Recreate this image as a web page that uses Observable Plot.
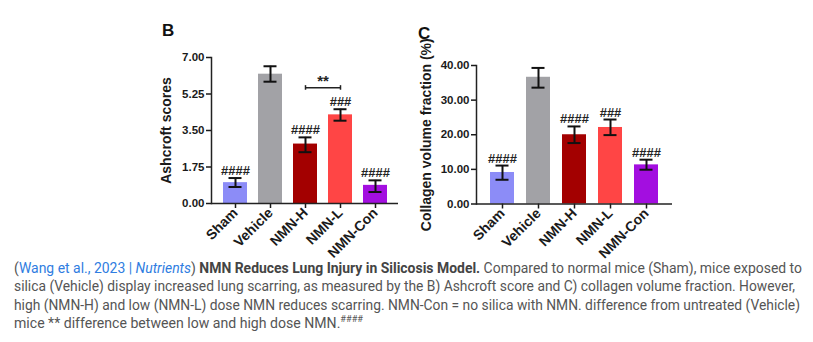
<!DOCTYPE html>
<html>
<head>
<meta charset="utf-8">
<script src="https://cdn.jsdelivr.net/npm/d3@7"></script>
<script src="https://cdn.jsdelivr.net/npm/@observablehq/plot@0.6"></script>
<style>
  html, body { margin: 0; padding: 0; background: #fff; }
  body { width: 813px; height: 342px; overflow: hidden; position: relative; }
  #b { position: absolute; left: 150px; top: 0; }
  #c { position: absolute; left: 410px; top: 0; }
  .panel { position: absolute; font: bold 17px "Liberation Sans", Arial, sans-serif; color: #111; line-height: 1; }
  #caption { position: absolute; left: 14px; top: 259px; font-family: Roboto, sans-serif; font-size: 13.8px; color: #555; line-height: 18.3px; }
  .ln { display: block; white-space: nowrap; width: max-content; transform-origin: 0 0; }
  .lk { color: #2f7de1; }
  .ttl { font-weight: bold; color: #444; }
  sup { font-size: 9px; line-height: 0; }
</style>
</head>
<body>
<div class="panel" style="left:162px; top:22px;">B</div>
<div id="b"></div>
<div id="c"></div>
<div class="panel" style="left:418px; top:25px;">C</div>
<div id="caption">
  <span class="ln">(<span class="lk">Wang et al., 2023 | <i>Nutrients</i></span>) <span class="ttl">NMN Reduces Lung Injury in Silicosis Model.</span> Compared to normal mice (Sham), mice exposed to</span>
  <span class="ln">silica (Vehicle) display increased lung scarring, as measured by the B) Ashcroft score and C) collagen volume fraction. However,</span>
  <span class="ln">high (NMN-H) and low (NMN-L) dose NMN reduces scarring. NMN-Con = no silica with NMN. difference from untreated (Vehicle)</span>
  <span class="ln">mice ** difference between low and high dose NMN.<sup>####</sup></span>
</div>
<script>
const groups = ["Sham", "Vehicle", "NMN-H", "NMN-L", "NMN-Con"];
const colors = ["#8c8cf7", "#a2a2a6", "#a30000", "#ff4545", "#a30ee0"];

const ashcroftMean = [1.0, 6.2, 2.85, 4.25, 0.87];
const ashcroftLow  = [0.79, 5.84, 2.46, 3.97, 0.55];
const ashcroftHigh = [1.22, 6.58, 3.17, 4.52, 1.11];
const ashcroftSig  = ["####", "", "####", "###", "####"];
const ashcroftTicks = [0, 1.75, 3.5, 5.25, 7];

const collagenMean = [9.1, 36.6, 20.0, 22.1, 11.3];
const collagenLow  = [7.0, 33.6, 17.6, 19.9, 9.9];
const collagenHigh = [11.1, 39.3, 22.4, 24.4, 12.8];
const collagenSig  = ["####", "", "####", "###", "####"];
const collagenTicks = [0, 10, 20, 30, 40];

const bracketFrom = "NMN-H";
const bracketTo = "NMN-L";
const bracketY = 5.55;
const bracketLabel = "**";

function panel(o) {
  const data = groups.map((g, i) => ({group: g, mean: o.mean[i], lo: o.lo[i], hi: o.hi[i], sig: o.sig[i]}));
  const marks = [
    Plot.barY(data, {x: "group", y: "mean", fill: "group"}),
    Plot.ruleX(data, {x: "group", y1: "lo", y2: "hi", stroke: "#111", strokeWidth: 2}),
    Plot.tickY(data, {x: "group", y: "hi", stroke: "#111", strokeWidth: 2, insetLeft: 5.5, insetRight: 5.5}),
    Plot.tickY(data, {x: "group", y: "lo", stroke: "#111", strokeWidth: 2, insetLeft: 5.5, insetRight: 5.5}),
    Plot.text(data, {x: "group", y: "hi", text: "sig", dy: -3, lineAnchor: "bottom", fontSize: 13, fontWeight: "bold", fill: "#222"}),
    Plot.axisX({tickRotate: -45, tickSize: 5, tickPadding: 2, fontSize: 14, fontWeight: "bold", label: null, strokeWidth: 1.5}),
    Plot.axisY({ticks: o.ticks, tickFormat: d3.format(".2f"), tickSize: 5, tickPadding: 2, fontSize: 11.5, fontWeight: "bold", label: null, strokeWidth: 1.5}),
    Plot.axisY({ticks: [], label: o.label, labelAnchor: "center", labelArrow: "none", labelOffset: o.labelOffset, fontSize: 14, fontWeight: "bold"}),
    Plot.ruleY([0], {stroke: "#222", strokeWidth: 1.5}),
    Plot.frame({anchor: "left", stroke: "#222", strokeWidth: 1.5})
  ];
  if (o.bracket) {
    const b = [{x1: bracketFrom, x2: bracketTo, y: bracketY, t: bracketLabel}];
    marks.push(
      Plot.link(b, {x1: "x1", x2: "x2", y1: "y", y2: "y", stroke: "#222", strokeWidth: 1.5}),
      Plot.ruleX([bracketFrom, bracketTo], {x: d => d, y1: bracketY - 0.12, y2: bracketY + 0.1, stroke: "#222", strokeWidth: 1.5}),
      Plot.text(b, {x: "x1", y: "y", text: "t", dx: 17.5, dy: -2, lineAnchor: "bottom", fontSize: 15, fontWeight: "bold", fill: "#222"})
    );
  }
  return Plot.plot({
    width: o.width, height: o.height,
    marginTop: o.mt, marginBottom: o.mb, marginLeft: o.ml, marginRight: o.mr,
    style: {fontFamily: "'Liberation Sans', Arial, sans-serif", color: "#1a1a1a", background: "transparent", overflow: "visible"},
    x: {domain: groups, paddingInner: o.pi, paddingOuter: o.po},
    y: {domain: o.domain},
    color: {domain: groups, range: colors},
    marks
  });
}

document.getElementById("b").append(panel({
  mean: ashcroftMean, lo: ashcroftLow, hi: ashcroftHigh, sig: ashcroftSig, ticks: ashcroftTicks,
  domain: [0, 7], label: "Ashcroft scores", labelOffset: 50,
  width: 255, height: 247, mt: 57, mb: 44, ml: 61, mr: 7, pi: 0.32, po: 0.31, bracket: true
}));

document.getElementById("c").append(panel({
  mean: collagenMean, lo: collagenLow, hi: collagenHigh, sig: collagenSig, ticks: collagenTicks,
  domain: [0, 40], label: "Collagen volume fraction (%)", labelOffset: 55,
  width: 270, height: 247, mt: 65, mb: 43.5, ml: 66, mr: 8, pi: 0.333, po: 0.333, bracket: false
}));

// fit caption lines to the reference wrap widths
const targets = [788, 781, 786, 349];
document.querySelectorAll("#caption .ln").forEach((el, i) => {
  const w = el.getBoundingClientRect().width;
  el.style.transform = `scaleX(${targets[i] / w})`;
});
</script>
</body>
</html>
